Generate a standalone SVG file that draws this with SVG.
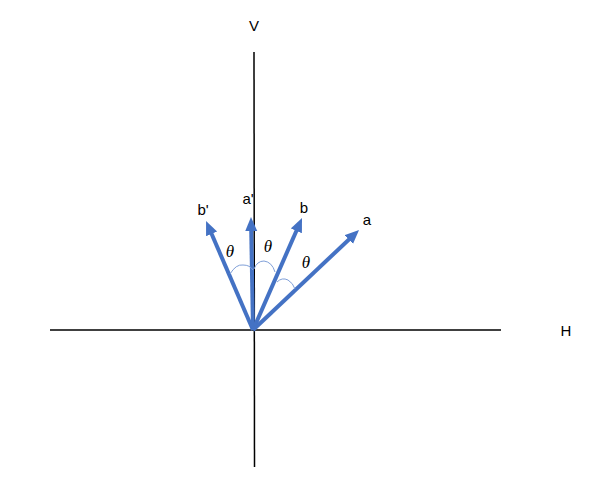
<svg xmlns="http://www.w3.org/2000/svg" width="594" height="480" viewBox="0 0 594 480">
<style>
.axis{stroke:#000;stroke-width:1.5;fill:none}
.vec{stroke:#4472C4;stroke-width:4;fill:none;marker-end:url(#ah)}
.arc{stroke:#7F9FD8;stroke-width:1;fill:none}
.lbl{font-family:"Liberation Sans",Arial,sans-serif;font-size:15px;fill:#000}
.th{font-family:"Liberation Serif","Times New Roman",serif;font-style:italic;font-size:17px;fill:#000}
</style>
<defs>
<marker id="ah" markerUnits="strokeWidth" markerWidth="4" markerHeight="3.2" refX="0.5" refY="1.5" orient="auto" viewBox="0 0 4 3.2">
<path d="M0,0 L3.5,1.5 L0,3 z" fill="#4472C4"/>
</marker>
</defs>
<rect width="594" height="480" fill="#fff"/>
<g id="axes">
<line class="axis" x1="50" y1="330" x2="501" y2="330"/>
<line class="axis" x1="254" y1="52" x2="254.5" y2="467"/>
<text class="lbl" x="254" y="31" text-anchor="middle">V</text>
<text class="lbl" x="566" y="336" text-anchor="middle">H</text>
</g>
<g id="connectors">
<line id="vec-bp" class="vec" x1="253" y1="330" x2="210.8" y2="232"/>
<line id="vec-ap" class="vec" x1="253" y1="330" x2="251.2" y2="229"/>
<line id="vec-b" class="vec" x1="253" y1="330" x2="297.2" y2="229"/>
<line id="vec-a" class="vec" x1="253" y1="330" x2="350.3" y2="238.2"/>
</g>
<g id="arcs">
<path class="arc" d="M230,274 Q236,264 243,265 Q250,265 253,270"/>
<path class="arc" d="M254,269 Q257,261 264,261 Q272,262 275,272"/>
<path class="arc" d="M277,282 Q282,277 288,280 Q293,283 295,289"/>
</g>
<g id="labels">
<text class="lbl" x="203" y="215" text-anchor="middle">b'</text>
<text class="lbl" x="248" y="204" text-anchor="middle">a'</text>
<text class="lbl" x="304" y="213" text-anchor="middle">b</text>
<text class="lbl" x="367" y="225" text-anchor="middle">a</text>
<text class="th" x="230" y="257" text-anchor="middle">θ</text>
<text class="th" x="268" y="252" text-anchor="middle">θ</text>
<text class="th" x="306" y="268" text-anchor="middle">θ</text>
</g>
</svg>
